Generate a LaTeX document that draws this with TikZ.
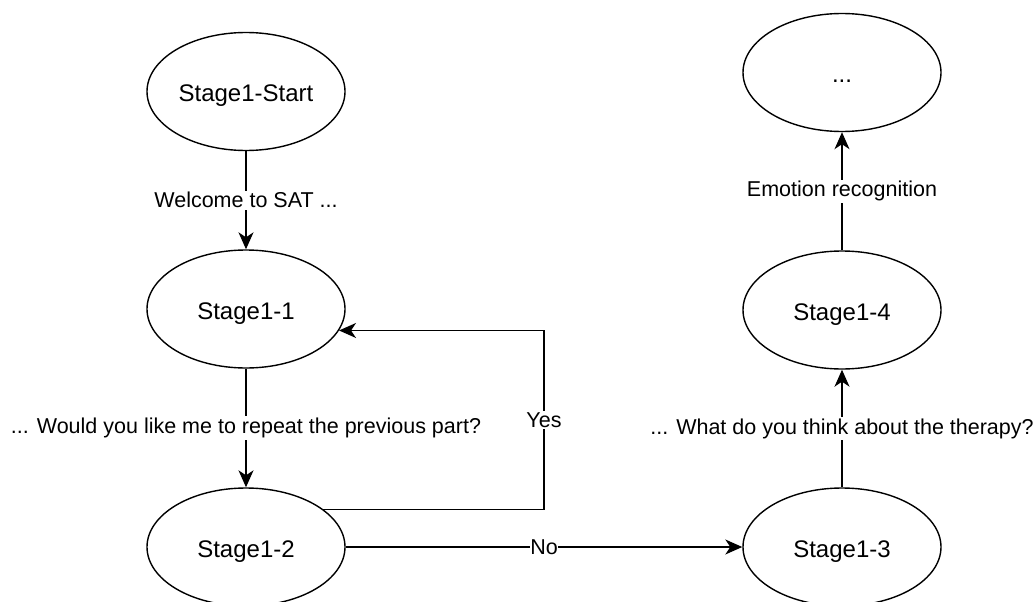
\documentclass[tikz,border=0pt]{standalone}
\usepackage{fontspec}
\setmainfont{Liberation Sans}
\usetikzlibrary{arrows.meta,shapes.geometric}
\begin{document}
\begin{tikzpicture}[x=1pt,y=-1pt,
  st/.style={draw, ellipse, line width=1.4pt, minimum width=198pt, minimum height=118pt, inner sep=0pt, text height=22pt, text depth=2pt, font=\fontsize{24}{28}\selectfont},
  ar/.style={line width=1.4pt, -{Stealth[length=17pt,width=15pt,inset=5pt]}},
  lb/.style={fill=white, inner sep=1.5pt, font=\fontsize{21.5}{25}\selectfont}]
\useasboundingbox (0,0) rectangle (1036,602);
\node[st] (s0) at (246,91.5) {Stage1-Start};
\node[st] (s1) at (246,309) {Stage1-1};
\node[st] (s2) at (246,547) {Stage1-2};
\node[st] (s3) at (842,547) {Stage1-3};
\node[st] (s4) at (842,310) {Stage1-4};
\node[st] (s5) at (842,72.5) {...};
\coordinate (yx) at (544,0);
\draw[ar] (s0) -- node[lb]{Welcome to SAT ...} (s1);
\draw[ar] (s1) -- node[lb]{... Would you like me to repeat the previous part?} (s2);
\draw[ar] (s2.26) -- (s2.26 -| yx) -- node[lb]{Yes} (s1.-13 -| yx) -- (s1.-13);
\draw[ar] (s2) -- node[lb, inner sep=0.5pt]{No} (s3);
\draw[ar] (s3) -- node[lb]{... What do you think about the therapy?} (s4);
\draw[ar] (s4) -- node[lb]{Emotion recognition} (s5);
\end{tikzpicture}
\end{document}
